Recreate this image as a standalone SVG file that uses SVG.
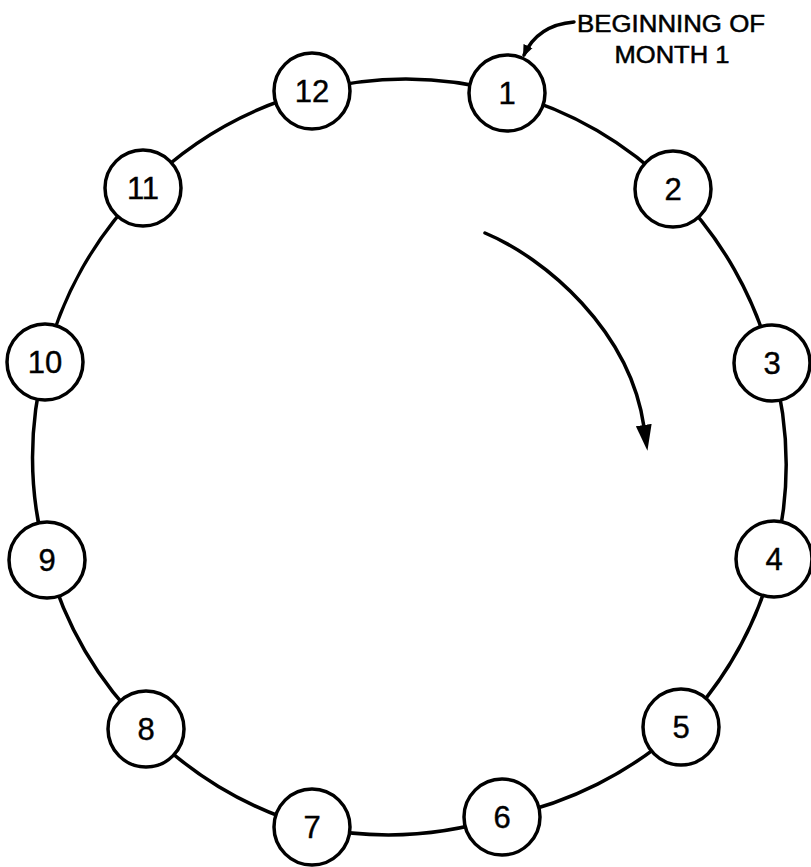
<svg xmlns="http://www.w3.org/2000/svg" width="811" height="867" viewBox="0 0 811 867">
<style>
.node circle{fill:#fff;stroke:#000;stroke-width:3.5}
.node text{font-family:"Liberation Sans",Arial,sans-serif;font-size:31px;fill:#000;stroke:#000;stroke-width:0.4;text-anchor:middle}
.conn{fill:none;stroke:#000;stroke-width:3.5;stroke-linecap:round}
.lbl{font-family:"Liberation Sans",Arial,sans-serif;font-size:23px;fill:#000;stroke:#000;stroke-width:0.5;text-anchor:middle}
</style>
<defs>
<marker id="bigArrow" viewBox="0 0 26 16" refX="2" refY="8" markerWidth="26" markerHeight="16" orient="auto" markerUnits="userSpaceOnUse">
<path d="M0,0 L26,8 L0,16 z" fill="#000"/>
</marker>
<marker id="smallArrow" viewBox="0 0 10 10" refX="8" refY="5" markerWidth="3.5" markerHeight="3.5" orient="auto" markerUnits="strokeWidth">
<path d="M0,1 L10,5 L0,9 z" fill="#000"/>
</marker>
</defs>
<rect width="811" height="867" fill="#fff"/>
<g id="connectors">
<path class="conn" d="M507,93 A377,377 0 0 1 673,189"/>
<path class="conn" d="M673,189 A377,377 0 0 1 772,363"/>
<path class="conn" d="M772,363 A377,377 0 0 1 774,559"/>
<path class="conn" d="M774,559 A377,377 0 0 1 681,727"/>
<path class="conn" d="M681,727 A377,377 0 0 1 502,817"/>
<path class="conn" d="M502,817 A377,377 0 0 1 312,827"/>
<path class="conn" d="M312,827 A377,377 0 0 1 146,729"/>
<path class="conn" d="M146,729 A377,377 0 0 1 47,560"/>
<path class="conn" d="M47,560 A377,377 0 0 1 45,362"/>
<path class="conn" d="M45,362 A377,377 0 0 1 143,188"/>
<path class="conn" d="M143,188 A377,377 0 0 1 312,91"/>
<path class="conn" d="M312,91 A377,377 0 0 1 507,93"/>
<path class="conn" d="M485,233 C545,258 630,330 644,427" marker-end="url(#bigArrow)"/>
<path class="conn" d="M574,22 C550,24 533,35 524,55" stroke-width="3" marker-end="url(#smallArrow)"/>
</g>
<g id="node1" class="node"><circle cx="507" cy="93" r="38"/><text x="507" y="104">1</text></g>
<g id="node2" class="node"><circle cx="673" cy="189" r="38"/><text x="673" y="200">2</text></g>
<g id="node3" class="node"><circle cx="772" cy="363" r="38"/><text x="772" y="374">3</text></g>
<g id="node4" class="node"><circle cx="774" cy="559" r="38"/><text x="774" y="570">4</text></g>
<g id="node5" class="node"><circle cx="681" cy="727" r="38"/><text x="681" y="738">5</text></g>
<g id="node6" class="node"><circle cx="502" cy="817" r="38"/><text x="502" y="828">6</text></g>
<g id="node7" class="node"><circle cx="312" cy="827" r="38"/><text x="312" y="838">7</text></g>
<g id="node8" class="node"><circle cx="146" cy="729" r="38"/><text x="146" y="740">8</text></g>
<g id="node9" class="node"><circle cx="47" cy="560" r="38"/><text x="47" y="571">9</text></g>
<g id="node10" class="node"><circle cx="45" cy="362" r="38"/><text x="45" y="373">10</text></g>
<g id="node11" class="node"><circle cx="143" cy="188" r="38"/><text x="143" y="199">11</text></g>
<g id="node12" class="node"><circle cx="312" cy="91" r="38"/><text x="312" y="102">12</text></g>
<g id="label">
<text class="lbl" x="671" y="32" textLength="188" lengthAdjust="spacingAndGlyphs">BEGINNING OF</text>
<text class="lbl" x="672" y="63" textLength="115" lengthAdjust="spacingAndGlyphs">MONTH 1</text>
</g>
</svg>
